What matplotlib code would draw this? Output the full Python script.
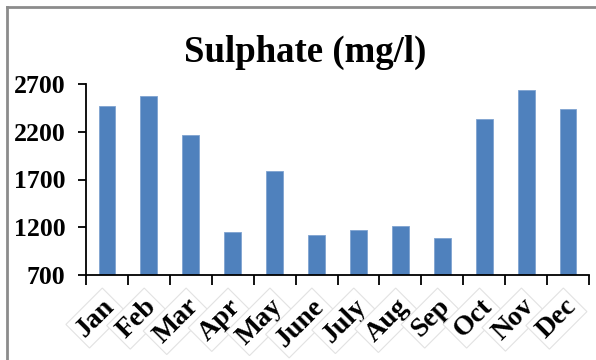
import matplotlib
matplotlib.use("Agg")
import matplotlib.pyplot as plt
from matplotlib.lines import Line2D

months = ["Jan", "Feb", "Mar", "Apr", "May", "June", "July", "Aug", "Sep", "Oct", "Nov", "Dec"]
sulphate = [2470, 2572, 2170, 1147, 1788, 1122, 1168, 1213, 1087, 2332, 2635, 2433]
yticks = [700, 1200, 1700, 2200, 2700]

W, H = 596, 360
fig = plt.figure(figsize=(W / 100, H / 100), dpi=100)
fig.patch.set_facecolor("white")

ax = fig.add_axes([86 / W, 1 - 275 / H, (589 - 86) / W, (275 - 84) / H])
x = list(range(len(months)))
ax.bar(x, [v - 700 for v in sulphate], bottom=700, width=0.4, color="#4f81bd",
       edgecolor="#7fa3d0", linewidth=0.6, zorder=2)

ax.set_xlim(-0.5, len(months) - 0.5)
ax.set_ylim(700, 2700)
ax.set_yticks(yticks)
ax.set_yticklabels([str(t) for t in yticks], fontfamily="Liberation Serif",
                   fontweight="bold", fontsize=18.5)
ax.set_xticks([i - 0.5 for i in range(len(months) + 1)], minor=False)
ax.set_xticklabels([])
for s in ["top", "right"]:
    ax.spines[s].set_visible(False)
for s in ["left", "bottom"]:
    ax.spines[s].set_linewidth(1.3)
ax.tick_params(axis="y", length=6, width=1.3, pad=9, direction="out")
ax.tick_params(axis="x", length=7, width=1.3, direction="out")

for i, m in enumerate(months):
    ax.annotate(m, xy=(i, 700), xytext=(3, -20), textcoords="offset points",
                rotation=45, rotation_mode="anchor", ha="right", va="center",
                fontfamily="Liberation Serif", fontweight="bold", fontsize=20,
                annotation_clip=False,
                bbox=dict(boxstyle="square,pad=0.15", facecolor="white",
                          edgecolor="#e2e2e2", linewidth=0.8))

fig.text(305 / W, 1 - 52 / H, "Sulphate (mg/l)", ha="center", va="center",
         fontfamily="Liberation Serif", fontweight="bold", fontsize=26.5)

fig.add_artist(Line2D([6.5 / W, 6.5 / W], [0, 1 - 7 / H], color="#8c8c8c", linewidth=2))
fig.add_artist(Line2D([6.5 / W, 1], [1 - 7 / H, 1 - 7 / H], color="#8c8c8c", linewidth=2))

fig.savefig("out.png", dpi=100, facecolor="white")
